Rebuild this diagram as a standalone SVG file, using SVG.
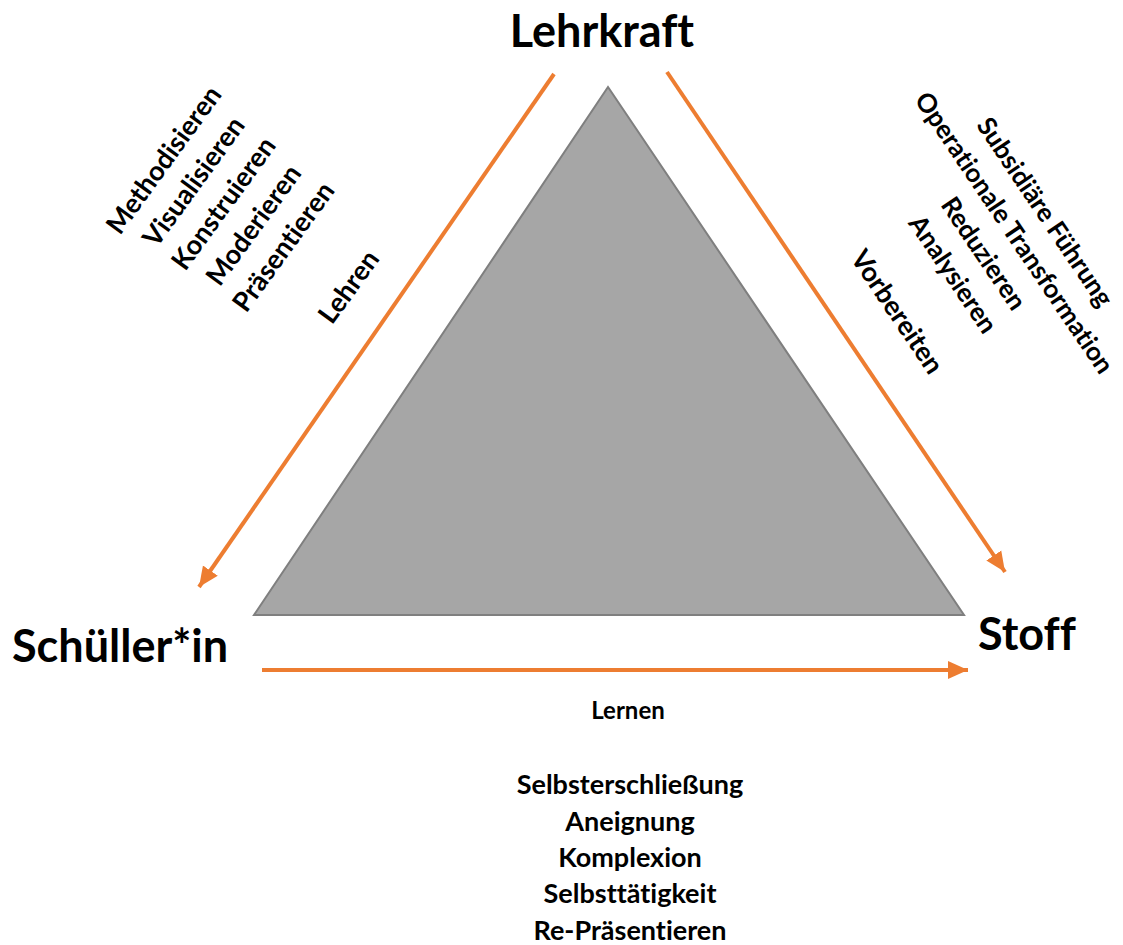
<svg xmlns="http://www.w3.org/2000/svg" width="1123" height="945" viewBox="0 0 1123 945">
<defs>
<style>
.t{font-family:Lato,"Open Sans","Liberation Sans",sans-serif;font-weight:bold;fill:#000;font-variant-ligatures:none;font-feature-settings:"liga" 0;}
.big{font-size:45px;}
.mid{font-size:27px;}
.rt{font-size:26px;}
.sm{font-size:24px;}
.arr{stroke:#ED7D31;stroke-width:4;fill:none;marker-end:url(#ah);}
</style>
<marker id="ah" markerUnits="userSpaceOnUse" markerWidth="24" markerHeight="20" refX="20" refY="9" orient="auto" viewBox="0 0 24 18">
<path d="M0,0 L20,9 L0,18 Z" fill="#ED7D31"/>
</marker>
</defs>
<rect width="1123" height="945" fill="#fff"/>
<g id="triangle">
<polygon points="608,87 254,615 964,615" fill="#a6a6a6" stroke="#7f7f7f" stroke-width="2"/>
</g>
<g id="connectors">
<line class="arr" x1="554" y1="74" x2="199" y2="587"/>
<line class="arr" x1="667" y1="72" x2="1005" y2="572"/>
<line class="arr" x1="262" y1="670" x2="968" y2="670"/>
</g>
<g id="lehrkraft"><text class="t big" x="602" y="47" text-anchor="middle">Lehrkraft</text></g>
<g id="schueler"><text class="t big" x="12" y="662">Schüller*in</text></g>
<g id="stoff"><text class="t big" x="978" y="650">Stoff</text></g>
<g id="lehren-list" transform="translate(164,160) rotate(-54)">
<text class="t mid" text-anchor="middle" x="0" y="9">Methodisieren</text>
<text class="t mid" text-anchor="middle" x="0" y="46">Visualisieren</text>
<text class="t mid" text-anchor="middle" x="0" y="83">Konstruieren</text>
<text class="t mid" text-anchor="middle" x="0" y="120">Moderieren</text>
<text class="t mid" text-anchor="middle" x="0" y="157">Präsentieren</text>
</g>
<g id="lehren" transform="translate(349,287) rotate(-54)">
<text class="t mid" text-anchor="middle" x="0" y="9">Lehren</text>
</g>
<g id="vorbereiten-list" transform="translate(1045,212) rotate(56)">
<text class="t rt" text-anchor="middle" x="0" y="9">Subsidiäre Führung</text>
<text class="t rt" text-anchor="middle" x="0" y="46">Operationale Transformation</text>
<text class="t rt" text-anchor="middle" x="0" y="83">Reduzieren</text>
<text class="t rt" text-anchor="middle" x="0" y="120">Analysieren</text>
</g>
<g id="vorbereiten" transform="translate(897,312) rotate(56)">
<text class="t mid" text-anchor="middle" x="0" y="9">Vorbereiten</text>
</g>
<g id="lernen"><text class="t sm" x="628" y="719" text-anchor="middle">Lernen</text></g>
<g id="lernen-list">
<text class="t mid" x="630" y="794" text-anchor="middle">Selbsterschließung</text>
<text class="t mid" x="630" y="831" text-anchor="middle">Aneignung</text>
<text class="t mid" x="630" y="867" text-anchor="middle">Komplexion</text>
<text class="t mid" x="630" y="903" text-anchor="middle">Selbsttätigkeit</text>
<text class="t mid" x="630" y="940" text-anchor="middle">Re-Präsentieren</text>
</g>
</svg>
